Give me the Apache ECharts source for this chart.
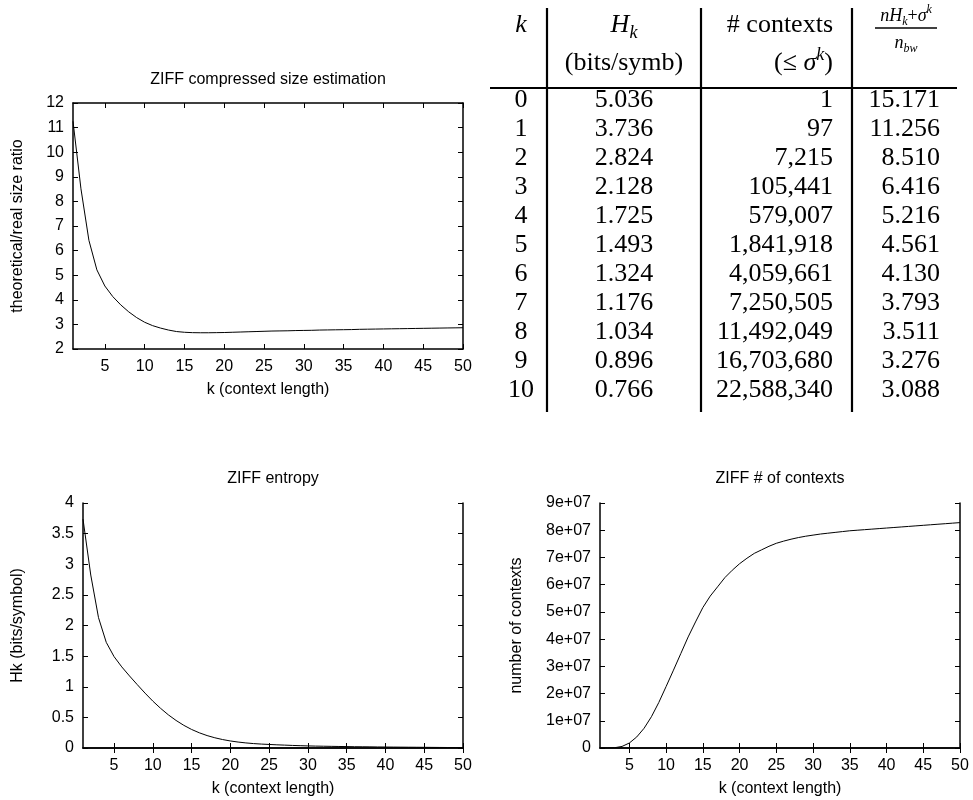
<!DOCTYPE html>
<html>
<head>
<meta charset="utf-8">
<script src="https://cdn.jsdelivr.net/npm/echarts@6/dist/echarts.min.js"></script>
<style>
  html, body { margin: 0; padding: 0; background: #fff; }
  #c { width: 973px; height: 800px; }
</style>
</head>
<body>
<div id="c"></div>
<script>
/* ---------- data ---------- */
const K = [1,2,3,4,5,6,7,8,9,10,11,12,13,14,15,16,17,18,19,20,21,22,23,24,25,
           26,27,28,29,30,31,32,33,34,35,36,37,38,39,40,41,42,43,44,45,46,47,48,49,50];
const X_TICKS = [5,10,15,20,25,30,35,40,45,50];

// theoretical/real size ratio
const RATIO = [11.256,8.510,6.416,5.216,4.561,4.130,3.793,3.511,3.276,3.088,
               2.95,2.85,2.77,2.71,2.68,2.665,2.66,2.66,2.665,2.67,
               2.68,2.69,2.70,2.71,2.72,2.73,2.735,2.74,2.75,2.755,
               2.76,2.77,2.775,2.78,2.785,2.79,2.80,2.805,2.81,2.815,
               2.82,2.825,2.83,2.835,2.84,2.845,2.85,2.855,2.86,2.865];
// Hk (bits/symbol)
const HK = [3.736,2.824,2.128,1.725,1.493,1.324,1.176,1.034,0.896,0.766,
            0.648,0.542,0.450,0.370,0.303,0.248,0.203,0.167,0.138,0.115,
            0.097,0.083,0.072,0.064,0.058,0.052,0.047,0.042,0.038,0.034,
            0.031,0.029,0.027,0.025,0.023,0.021,0.020,0.019,0.017,0.016,
            0.015,0.014,0.013,0.012,0.011,0.010,0.009,0.008,0.007,0.006];
// number of contexts
const CTX = [97,7215,105441,579007,1841918,4059661,7250505,11492049,16703680,22588340,
             28600000,34700000,40800000,46300000,51600000,55800000,59200000,62600000,65300000,67700000,
             69700000,71500000,72800000,74100000,75200000,76000000,76700000,77300000,77800000,78200000,
             78600000,78900000,79200000,79500000,79800000,80000000,80200000,80400000,80600000,80800000,
             81000000,81200000,81400000,81600000,81800000,82000000,82200000,82400000,82600000,82800000];

// table
const T_K     = ['0','1','2','3','4','5','6','7','8','9','10'];
const T_H     = ['5.036','3.736','2.824','2.128','1.725','1.493','1.324','1.176','1.034','0.896','0.766'];
const T_CTX   = ['1','97','7,215','105,441','579,007','1,841,918','4,059,661','7,250,505',
                 '11,492,049','16,703,680','22,588,340'];
const T_RATIO = ['15.171','11.256','8.510','6.416','5.216','4.561','4.130','3.793','3.511','3.276','3.088'];

/* ---------- style helpers ---------- */
const SANS = '"Liberation Sans", Arial, sans-serif';
const SERIF = '"Liberation Serif", "Times New Roman", serif';
const FS = 16;
const LINE = { lineStyle: { color: '#000', width: 1.5 } };

function xAxes(gi, name, gap) {
  const tick = { inside: true, length: 5, lineStyle: { color: '#000' }, customValues: X_TICKS };
  return [
    { gridIndex: gi, type: 'value', min: 1, max: 50, position: 'bottom',
      axisLine: LINE, axisTick: tick, splitLine: { show: false },
      axisLabel: { color: '#000', fontFamily: SANS, fontSize: FS, margin: 10, customValues: X_TICKS },
      name, nameLocation: 'middle', nameGap: gap,
      nameTextStyle: { color: '#000', fontFamily: SANS, fontSize: FS } },
    { gridIndex: gi, type: 'value', min: 1, max: 50, position: 'top',
      axisLine: LINE, axisTick: tick, splitLine: { show: false }, axisLabel: { show: false } }
  ];
}
function yAxes(gi, min, max, interval, name, gap, fmt) {
  const tick = { inside: true, length: 5, lineStyle: { color: '#000' } };
  return [
    { gridIndex: gi, type: 'value', min, max, interval, position: 'left',
      axisLine: LINE, axisTick: tick, splitLine: { show: false },
      axisLabel: { color: '#000', fontFamily: SANS, fontSize: FS, margin: 9, formatter: fmt },
      name, nameLocation: 'middle', nameGap: gap,
      nameTextStyle: { color: '#000', fontFamily: SANS, fontSize: FS } },
    { gridIndex: gi, type: 'value', min, max, interval, position: 'right',
      axisLine: LINE, axisTick: tick, splitLine: { show: false }, axisLabel: { show: false } }
  ];
}
function curve(gi, vals) {
  return { type: 'line', xAxisIndex: gi * 2, yAxisIndex: gi * 2, data: K.map((k, i) => [k, vals[i]]),
           showSymbol: false, smooth: false, lineStyle: { color: '#000', width: 1 }, silent: true };
}

/* ---------- table (graphic) ---------- */
const RICH = {
  n:   { fontFamily: SERIF, fontSize: 26, lineHeight: 34, color: '#000' },
  i:   { fontFamily: SERIF, fontSize: 26, lineHeight: 34, fontStyle: 'italic', color: '#000' },
  sub: { fontFamily: SERIF, fontSize: 18, lineHeight: 16, fontStyle: 'italic', verticalAlign: 'bottom', color: '#000' },
  sup: { fontFamily: SERIF, fontSize: 18, lineHeight: 20, fontStyle: 'italic', verticalAlign: 'top', color: '#000' },
  fn:  { fontFamily: SERIF, fontSize: 18, lineHeight: 24, color: '#000' },
  fi:  { fontFamily: SERIF, fontSize: 18, lineHeight: 24, fontStyle: 'italic', color: '#000' },
  fsb: { fontFamily: SERIF, fontSize: 12, lineHeight: 10, fontStyle: 'italic', verticalAlign: 'bottom', color: '#000' },
  fsp: { fontFamily: SERIF, fontSize: 12, lineHeight: 13, fontStyle: 'italic', verticalAlign: 'top', color: '#000' }
};
function txt(x, y, text, align) {
  return { type: 'text', x, y, silent: true,
           style: { text, rich: RICH, textAlign: align, align, textVerticalAlign: 'middle', verticalAlign: 'middle',
                    font: '26px ' + SERIF, fill: '#000' } };
}
function rule(x1, y1, x2, y2, w) {
  return { type: 'line', silent: true, shape: { x1, y1, x2, y2 }, style: { stroke: '#000', lineWidth: w } };
}

const ROW0 = 100, ROWH = 29;
const COL_K = 521, COL_H = 624, COL_CTX = 833, COL_R = 940;
const table = [
  rule(547, 8, 547, 412, 2.2), rule(701, 8, 701, 412, 2.2), rule(852, 8, 852, 412, 2.2),
  rule(490, 88, 957, 88, 2),
  txt(COL_K, 25, '{i|k}', 'center'),
  txt(COL_H, 25, '{i|H}{sub|k}', 'center'),
  txt(COL_H, 63, '{n|(bits/symb)}', 'center'),
  txt(COL_CTX, 25, '{n|# contexts}', 'right'),
  txt(COL_CTX, 63, '{n|(≤ }{i|σ}{sup|k}{n|)}', 'right'),
  txt(906, 16, '{fi|nH}{fsb|k}{fn|+}{fi|σ}{fsp|k}', 'center'),
  rule(875, 28, 937, 28, 1.5),
  txt(906, 43, '{fi|n}{fsb|bw}', 'center')
];
T_K.forEach((v, i) => {
  const y = ROW0 + i * ROWH;
  table.push(txt(COL_K, y, '{n|' + T_K[i] + '}', 'center'));
  table.push(txt(COL_H, y, '{n|' + T_H[i] + '}', 'center'));
  table.push(txt(COL_CTX, y, '{n|' + T_CTX[i] + '}', 'right'));
  table.push(txt(COL_R, y, '{n|' + T_RATIO[i] + '}', 'right'));
});

/* ---------- chart ---------- */
const TITLE = { color: '#000', fontFamily: SANS, fontSize: FS, fontWeight: 'normal' };
const option = {
  animation: false,
  title: [
    { text: 'ZIFF compressed size estimation', left: 268, top: 72, textAlign: 'center', padding: 0, textStyle: TITLE },
    { text: 'ZIFF entropy', left: 273, top: 471, textAlign: 'center', padding: 0, textStyle: TITLE },
    { text: 'ZIFF # of contexts', left: 780, top: 471, textAlign: 'center', padding: 0, textStyle: TITLE }
  ],
  grid: [
    { left: 73, top: 103, width: 390, height: 246, outerBoundsMode: 'none' },
    { left: 83, top: 503, width: 380, height: 245, outerBoundsMode: 'none' },
    { left: 600, top: 503, width: 360, height: 245, outerBoundsMode: 'none' }
  ],
  xAxis: [
    ...xAxes(0, 'k (context length)', 33),
    ...xAxes(1, 'k (context length)', 33),
    ...xAxes(2, 'k (context length)', 33)
  ],
  yAxis: [
    ...yAxes(0, 2, 12, 1, 'theoretical/real size ratio', 47),
    ...yAxes(1, 0, 4, 0.5, 'Hk (bits/symbol)', 57),
    ...yAxes(2, 0, 90000000, 10000000, 'number of contexts', 75,
             v => v === 0 ? '0' : (v / 10000000) + 'e+07')
  ],
  series: [curve(0, RATIO), curve(1, HK), curve(2, CTX)],
  graphic: table
};

const chart = echarts.init(document.getElementById('c'), null, { renderer: 'canvas' });
chart.setOption(option);
</script>
</body>
</html>
